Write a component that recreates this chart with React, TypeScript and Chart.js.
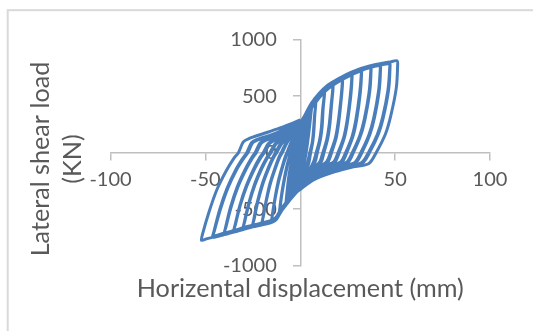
import { useEffect, useRef } from 'react';
import { Chart, registerables } from 'chart.js';

Chart.register(...registerables);

type Pt = [number, number];

// Cyclic test record: displacement (mm), lateral load (kN).
// One array per loading cycle; "b"/"c" arrays are repeat cycles at about the same amplitude.
const cycle01: Pt[] = [[0, 0], [0.7, 100], [1.5, 200], [1.1, 120], [0.2, -10], [-0.7, -110], [-1.5, -210], [-1.1, -130], [-0.2, 0], [0.3, 60]];
const cycle01b: Pt[] = [[1, 150], [2, 250], [1.6, 170], [0.6, 20], [-0.5, -120], [-2, -260], [-1.6, -180], [-0.6, -40], [0.2, 80], [1.2, 160]];
const cycle02: Pt[] = [[2.1, 250], [3, 330], [2.6, 230], [1.6, 90], [0.4, -70], [-1, -200], [-2, -280], [-3, -345], [-2.6, -250], [-1.6, -100], [-0.4, 70], [0.5, 170]];
const cycle02b: Pt[] = [[1.8, 260], [3.5, 350], [3.1, 260], [2, 90], [0.8, -80], [-0.8, -210], [-2.2, -300], [-3.5, -360], [-3.1, -270], [-2, -110], [-0.8, 60], [0.6, 190]];
const cycle03: Pt[] = [[1.5, 240], [3, 330], [4, 375], [5, 410], [4.7, 330], [3.8, 170], [2.6, 0], [1.2, -150], [-0.5, -260], [-2.5, -340], [-4, -380], [-5, -400], [-4.7, -320], [-3.8, -160], [-2.5, 10], [-1, 150], [0.5, 230]];
const cycle03b: Pt[] = [[1.5, 230], [3, 310], [4, 355], [4.9, 395], [4.6, 315], [3.6, 160], [2.4, 0], [1, -140], [-0.6, -245], [-2.5, -325], [-4, -365], [-4.9, -388], [-4.6, -310], [-3.6, -150], [-2.3, 10], [-0.8, 140], [0.5, 220]];
const cycle03c: Pt[] = [[2, 300], [4, 375], [6, 430], [5.6, 340], [4.5, 170], [3.2, 10], [1.5, -140], [-0.5, -250], [-3, -340], [-5, -390], [-6, -415], [-5.6, -330], [-4.5, -170], [-3, 0], [-1.2, 140], [0, 200]];
const cycle04: Pt[] = [[1.5, 280], [3, 340], [5, 410], [6.5, 450], [8, 485], [8.2, 440], [7.7, 340], [7.2, 195], [6.6, 95], [5.5, 0], [4.6, -85], [3, -170], [1, -260], [0, -300], [-2, -345], [-4, -385], [-6, -425], [-7.5, -455], [-7.4, -420], [-6.7, -305], [-5.9, -195], [-4.8, -95], [-4, -30], [-3.5, 0], [-2.5, 60], [-1.5, 120], [0, 200]];
const cycle04b: Pt[] = [[1.5, 255], [3, 315], [5, 385], [6.5, 430], [7.9, 468], [8.1, 425], [7.5, 320], [6.9, 180], [6.2, 80], [5, 0], [4, -75], [2.5, -160], [0.8, -250], [0, -285], [-2, -330], [-4, -370], [-6, -410], [-7.4, -440], [-7.3, -400], [-6.5, -290], [-5.7, -180], [-4.6, -85], [-3.7, -20], [-3.2, 0], [-2.2, 60], [-1.2, 120], [0, 190]];
const cycle05: Pt[] = [[1.5, 280], [3, 335], [6, 420], [9, 495], [11, 535], [12.5, 565], [12.8, 520], [12.1, 395], [11.5, 225], [10.6, 115], [9, 0], [7.8, -85], [5, -170], [2, -255], [0, -305], [-2, -345], [-4.5, -392], [-7, -445], [-9, -490], [-11, -545], [-10.8, -495], [-9.8, -365], [-8.5, -235], [-7, -115], [-5.7, -35], [-5, 0], [-3.5, 80], [-2, 150], [0, 230]];
const cycle05b: Pt[] = [[1.5, 250], [3, 305], [6, 395], [9, 470], [11, 520], [12.4, 550], [12.6, 505], [11.8, 380], [11.1, 215], [10.1, 105], [8.4, 0], [7, -80], [4.5, -160], [1.5, -245], [0, -290], [-2, -330], [-4.5, -378], [-7, -430], [-9, -475], [-10.9, -528], [-10.6, -480], [-9.5, -350], [-8.1, -220], [-6.6, -105], [-5.3, -30], [-4.6, 0], [-3, 80], [-1.5, 150], [0, 215]];
const cycle06: Pt[] = [[2, 300], [4, 365], [6, 425], [10, 510], [13, 560], [15, 595], [17, 625], [17.3, 575], [16.6, 440], [15.6, 250], [14.5, 125], [12.5, 0], [11, -85], [7, -150], [3, -225], [0, -305], [-2, -345], [-4.5, -392], [-7, -445], [-10, -510], [-12.5, -580], [-15, -610], [-14.8, -560], [-13.4, -410], [-11.7, -260], [-9.6, -130], [-8, -40], [-7, 0], [-5, 85], [-2.5, 160], [0, 240]];
const cycle06b: Pt[] = [[2, 270], [4, 335], [6, 395], [10, 485], [13, 540], [15, 578], [16.9, 608], [17.1, 560], [16.3, 425], [15.2, 240], [14, 118], [11.9, 0], [10.3, -80], [6.5, -140], [2.5, -215], [0, -290], [-2, -330], [-4.5, -378], [-7, -430], [-10, -495], [-12.5, -565], [-14.9, -595], [-14.6, -545], [-13.1, -395], [-11.3, -250], [-9.2, -120], [-7.5, -35], [-6.5, 0], [-4.5, 80], [-2, 155], [0, 225]];
const cycle07: Pt[] = [[2, 305], [4, 370], [6, 428], [10, 515], [14, 580], [18, 625], [22, 668], [22.3, 618], [21.6, 470], [20.3, 270], [19, 135], [16.5, 0], [14.5, -85], [10, -135], [5, -190], [1.5, -270], [0, -305], [-2, -345], [-4.5, -392], [-7, -445], [-10, -512], [-12.5, -582], [-15, -610], [-20, -632], [-19.7, -580], [-18, -425], [-15.9, -270], [-13.3, -135], [-11.2, -40], [-10, 0], [-7.5, 85], [-4, 170], [0, 245]];
const cycle07b: Pt[] = [[2, 275], [4, 340], [6, 400], [10, 490], [14, 555], [18, 605], [21.9, 652], [22.1, 605], [21.3, 455], [19.9, 260], [18.5, 128], [15.9, 0], [13.9, -80], [9.5, -128], [4.5, -185], [1.2, -260], [0, -292], [-2, -332], [-4.5, -380], [-7, -432], [-10, -498], [-12.5, -568], [-15, -597], [-19.9, -618], [-19.5, -568], [-17.7, -412], [-15.5, -260], [-12.9, -128], [-10.7, -36], [-9.5, 0], [-7, 85], [-3.5, 168], [0, 235]];
const cycle08: Pt[] = [[2, 308], [4, 372], [6, 430], [10, 518], [14, 583], [18, 627], [22, 665], [27, 708], [27.3, 658], [26.6, 495], [25, 285], [23.4, 142], [20.5, 0], [18.2, -85], [13, -125], [7, -165], [2, -255], [0, -308], [-2, -347], [-4.5, -394], [-7, -447], [-10, -514], [-12.5, -584], [-15, -611], [-20, -633], [-25, -652], [-24.6, -600], [-22.6, -435], [-20.1, -280], [-17, -140], [-14.4, -42], [-13, 0], [-10.4, 80], [-8, 115], [-4, 185], [0, 250]];
const cycle08b: Pt[] = [[2, 278], [4, 343], [6, 402], [10, 492], [14, 558], [18, 605], [22, 645], [26.9, 692], [27.1, 645], [26.2, 480], [24.6, 275], [22.9, 135], [19.9, 0], [17.6, -82], [12.5, -120], [6.5, -160], [1.8, -248], [0, -295], [-2, -335], [-4.5, -382], [-7, -434], [-10, -500], [-12.5, -570], [-15, -598], [-20, -620], [-24.8, -638], [-24.3, -588], [-22.2, -425], [-19.6, -270], [-16.5, -135], [-13.9, -40], [-12.4, 0], [-9.8, 78], [-7.5, 112], [-3.5, 180], [0, 240]];
const cycle09: Pt[] = [[2, 310], [4, 374], [6, 432], [10, 520], [14, 585], [18, 629], [22, 666], [27, 706], [32, 742], [32.3, 692], [31.6, 520], [29.8, 300], [27.9, 150], [24.5, 0], [21.9, -85], [16, -115], [9, -150], [3, -230], [0, -310], [-2, -347], [-4.5, -394], [-7, -447], [-10, -514], [-12.5, -584], [-15, -612], [-20, -634], [-25, -652], [-30, -675], [-29.6, -625], [-27.2, -450], [-24.3, -290], [-20.6, -140], [-17.7, -45], [-16, 0], [-13.4, 75], [-10.5, 115], [-5, 180], [0, 255]];
const cycle09b: Pt[] = [[2, 280], [4, 345], [6, 405], [10, 495], [14, 560], [18, 607], [22, 646], [27, 688], [31.9, 726], [32.1, 680], [31.2, 508], [29.3, 290], [27.3, 142], [23.9, 0], [21.3, -82], [15.5, -112], [8.5, -146], [2.8, -225], [0, -298], [-2, -336], [-4.5, -383], [-7, -436], [-10, -502], [-12.5, -572], [-15, -600], [-20, -622], [-25, -640], [-29.8, -660], [-29.3, -612], [-26.8, -440], [-23.8, -282], [-20.1, -135], [-17.2, -42], [-15.4, 0], [-12.8, 75], [-10, 112], [-4.5, 175], [0, 245]];
const cycle10: Pt[] = [[2, 312], [4, 376], [6, 434], [10, 522], [14, 587], [18, 631], [22, 668], [27, 708], [32, 740], [37, 766], [37.3, 716], [36.6, 535], [34.3, 310], [32, 160], [28, 0], [25, -88], [19, -110], [11, -140], [4, -215], [0, -312], [-2, -348], [-4.5, -395], [-7, -448], [-10, -515], [-12.5, -585], [-15, -612], [-20, -634], [-25, -653], [-30, -676], [-35, -700], [-34.5, -650], [-31.9, -470], [-28.6, -300], [-24.6, -145], [-21.4, -45], [-19.5, 0], [-16.9, 80], [-14, 112], [-8, 160], [-3, 220], [0, 260]];
const cycle10b: Pt[] = [[2, 282], [4, 347], [6, 407], [10, 497], [14, 562], [18, 609], [22, 648], [27, 690], [32, 724], [36.9, 752], [37.1, 705], [36.2, 525], [33.8, 300], [31.4, 152], [27.4, 0], [24.4, -85], [18.5, -108], [10.5, -138], [3.8, -210], [0, -300], [-2, -337], [-4.5, -385], [-7, -438], [-10, -504], [-12.5, -574], [-15, -601], [-20, -623], [-25, -642], [-30, -662], [-34.8, -686], [-34.2, -638], [-31.5, -460], [-28.1, -292], [-24, -140], [-20.8, -44], [-18.9, 0], [-16.3, 78], [-13.5, 110], [-7.5, 158], [-2.5, 218], [0, 250]];
const cycle11: Pt[] = [[2, 314], [4, 378], [6, 436], [10, 523], [14, 588], [18, 632], [22, 669], [27, 709], [32, 741], [37, 766], [42, 783], [42.3, 733], [41.6, 548], [39.2, 315], [36.8, 165], [32.5, 0], [29.2, -90], [23, -115], [14, -145], [5, -215], [0, -315], [-2, -348], [-4.5, -396], [-7, -449], [-10, -516], [-12.5, -586], [-15, -613], [-20, -635], [-25, -654], [-30, -677], [-35, -700], [-40, -722], [-39.5, -672], [-36.8, -485], [-33.4, -310], [-29.1, -150], [-25.7, -47], [-23.8, 0], [-21.2, 85], [-18.5, 112], [-12, 155], [-5, 215], [0, 270]];
const cycle11b: Pt[] = [[2, 284], [4, 349], [6, 409], [10, 499], [14, 564], [18, 611], [22, 650], [27, 692], [32, 726], [37, 752], [41.9, 770], [42.1, 722], [41.2, 538], [38.7, 305], [36.2, 158], [31.9, 0], [28.6, -88], [22.5, -112], [13.5, -142], [4.8, -210], [0, -303], [-2, -338], [-4.5, -386], [-7, -439], [-10, -505], [-12.5, -575], [-15, -602], [-20, -624], [-25, -643], [-30, -664], [-35, -688], [-39.8, -708], [-39.2, -660], [-36.3, -475], [-32.8, -302], [-28.5, -145], [-25.1, -45], [-23.2, 0], [-20.6, 82], [-18, 110], [-11.5, 152], [-4.5, 212], [0, 262]];
const cycle12: Pt[] = [[2, 316], [4, 380], [6, 438], [10, 524], [14, 589], [18, 633], [22, 670], [27, 710], [32, 742], [37, 767], [42, 784], [47, 798], [47.3, 748], [46.6, 560], [43.9, 320], [41.2, 165], [36.5, 0], [32.8, -92], [26, -120], [16, -160], [6, -225], [0, -320], [-2, -350], [-4.5, -398], [-7, -450], [-10, -517], [-12.5, -587], [-15, -614], [-20, -636], [-25, -655], [-30, -678], [-35, -701], [-40, -723], [-46, -748], [-45.5, -698], [-42.4, -500], [-38.7, -320], [-34.1, -155], [-30.3, -50], [-28.2, 0], [-25.6, 90], [-23, 115], [-15, 160], [-7, 215], [0, 280]];
const cycle12b: Pt[] = [[2, 286], [4, 351], [6, 411], [10, 501], [14, 566], [18, 613], [22, 652], [27, 694], [32, 728], [37, 754], [42, 772], [46.9, 785], [47.1, 738], [46.2, 552], [43.4, 312], [40.6, 160], [35.9, 0], [32.2, -90], [25.5, -118], [15.5, -156], [5.5, -220], [0, -308], [-2, -340], [-4.5, -388], [-7, -440], [-10, -506], [-12.5, -576], [-15, -603], [-20, -625], [-25, -644], [-30, -665], [-35, -689], [-40, -710], [-45.8, -735], [-45.2, -688], [-41.9, -492], [-38.1, -312], [-33.5, -150], [-29.7, -48], [-27.6, 0], [-25, 88], [-22.5, 112], [-14.5, 157], [-6.5, 212], [0, 272]];
const cycle13: Pt[] = [[2, 318], [4, 382], [6, 440], [10, 525], [14, 590], [18, 634], [22, 671], [27, 711], [32, 744], [37, 768], [42, 786], [47, 800], [51, 812], [51.3, 762], [50.6, 570], [47.7, 325], [44.9, 165], [40, 0], [36.2, -95], [28, -125], [18, -170], [7, -240], [0, -325], [-2, -352], [-4.5, -400], [-7, -452], [-10, -518], [-12.5, -588], [-15, -615], [-20, -637], [-25, -656], [-30, -679], [-36, -705], [-44, -740], [-49, -760], [-52, -775], [-51.5, -720], [-48, -520], [-44, -330], [-39, -160], [-35, -50], [-32.6, 0], [-30, 95], [-27, 125], [-20, 165], [-12, 210], [-5, 255], [0, 290]];

const cycles: Pt[][] = [
  cycle01, cycle01b, cycle02, cycle02b, cycle03, cycle03b, cycle03c, cycle04, cycle04b,
  cycle05, cycle05b, cycle06, cycle06b, cycle07, cycle07b, cycle08, cycle08b,
  cycle09, cycle09b, cycle10, cycle10b, cycle11, cycle11b, cycle12, cycle12b, cycle13,
];

const xTicks = [-100, -50, 0, 50, 100];
const yTicks = [-1000, -500, 0, 500, 1000];
const xTitle = 'Horizental displacement (mm)';
const yTitle = ['Lateral shear load', '(KN)'];

const LINE = '#4a7ebb';
const AXIS = '#bfbfbf';
const TEXT = '#595959';
const FONT = 'Lato';

// Frame around the chart plus the two axis titles
const decorations = {
  id: 'decorations',
  beforeDraw(chart: Chart) {
    const { ctx } = chart;
    ctx.save();
    ctx.strokeStyle = '#d9d9d9';
    ctx.lineWidth = 2;
    ctx.strokeRect(7.7, 10.2, 600, 400);
    ctx.restore();
  },
  afterDraw(chart: Chart) {
    const { ctx } = chart;
    ctx.save();
    ctx.fillStyle = TEXT;
    ctx.font = `25.2px ${FONT}`;
    ctx.textAlign = 'center';
    ctx.textBaseline = 'alphabetic';
    const cx = (chart.chartArea.left + chart.chartArea.right) / 2;
    ctx.fillText(xTitle, cx, 296.5);
    const cy = 159;
    const baselines = [48.5, 80.5];
    yTitle.forEach((line, i) => {
      ctx.save();
      ctx.translate(baselines[i], cy);
      ctx.rotate(-Math.PI / 2);
      ctx.fillText(line, 0, 0);
      ctx.restore();
    });
    ctx.restore();
  },
};

export default function App() {
  const ref = useRef<HTMLCanvasElement | null>(null);

  useEffect(() => {
    if (!ref.current) return;
    const data = cycles.flat().map(([x, y]) => ({ x, y }));
    const chart = new Chart(ref.current, {
      type: 'scatter',
      data: {
        datasets: [
          {
            data,
            showLine: true,
            borderColor: LINE,
            backgroundColor: LINE,
            borderWidth: 3,
            pointRadius: 0,
            tension: 0.3,
            fill: false,
          },
        ],
      },
      options: {
        animation: false,
        responsive: false,
        devicePixelRatio: 1,
        layout: { padding: { left: 110.5, right: 43, top: 39.5, bottom: 65.2 } },
        plugins: { legend: { display: false }, tooltip: { enabled: false } },
        scales: {
          x: {
            type: 'linear',
            min: -100,
            max: 100,
            position: 'center',
            afterBuildTicks: (s: any) => {
              s.ticks = xTicks.map((v) => ({ value: v }));
            },
            grid: { drawOnChartArea: false, drawTicks: true, tickLength: 7, color: AXIS, lineWidth: 1.5 },
            border: { display: true, color: AXIS, width: 1.5 },
            ticks: { color: TEXT, font: { family: FONT, size: 20 }, padding: 7.5, maxRotation: 0, callback: (v: any) => String(v) },
          },
          y: {
            type: 'linear',
            min: -1000,
            max: 1000,
            position: 'center',
            afterBuildTicks: (s: any) => {
              s.ticks = yTicks.map((v) => ({ value: v }));
            },
            grid: { drawOnChartArea: false, drawTicks: true, tickLength: 7, color: AXIS, lineWidth: 1.5 },
            border: { display: true, color: AXIS, width: 1.5 },
            ticks: { color: TEXT, font: { family: FONT, size: 20 }, padding: 16.5, callback: (v: any) => String(v) },
          },
        },
      },
      plugins: [decorations],
    });
    return () => chart.destroy();
  }, []);

  return (
    <div style={{ position: 'absolute', left: 0, top: 0, width: 533, height: 331, background: '#ffffff' }}>
      <canvas ref={ref} width={533} height={331} />
    </div>
  );
}
